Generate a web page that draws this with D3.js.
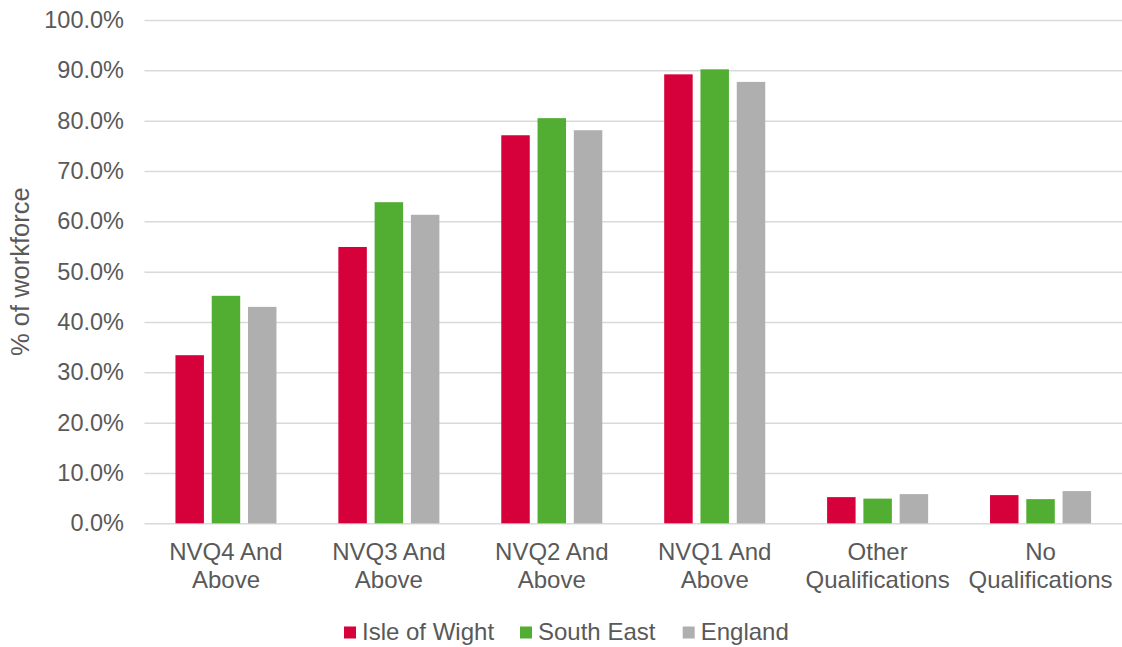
<!DOCTYPE html>
<html>
<head>
<meta charset="utf-8">
<script src="https://cdn.jsdelivr.net/npm/d3@7"></script>
<style>
  html, body { margin: 0; padding: 0; background: #fff; }
  svg text { font-family: "Liberation Sans", Arial, sans-serif; fill: #595959; }
</style>
</head>
<body>
<svg id="chart" width="1122" height="647"></svg>
<script>
// Qualification levels of the workforce
const categories = [
  ["NVQ4 And", "Above"],
  ["NVQ3 And", "Above"],
  ["NVQ2 And", "Above"],
  ["NVQ1 And", "Above"],
  ["Other", "Qualifications"],
  ["No", "Qualifications"]
];
const seriesNames = ["Isle of Wight", "South East", "England"];
const isleOfWight = [33.4, 54.9, 77.1, 89.2, 5.2, 5.6];
const southEast   = [45.2, 63.8, 80.5, 90.2, 4.9, 4.8];
const england     = [43.0, 61.3, 78.1, 87.7, 5.8, 6.4];
const yTicks = [0, 10, 20, 30, 40, 50, 60, 70, 80, 90, 100];
const colors = ["#D6003A", "#52AD33", "#AFAFAF"];

const series = [isleOfWight, southEast, england];
const catKeys = categories.map(c => c.join(" "));

const svg = d3.select("#chart");
const margin = { left: 144.5, right: 0, top: 20, bottom: 123.7 };
const W = 1122, H = 647;

const x0 = d3.scaleBand().domain(catKeys).range([margin.left, W - margin.right]).padding(0);
const x1 = d3.scaleBand().domain(seriesNames).range([0, x0.bandwidth()])
  .paddingInner(0.215).paddingOuter(0.853);
const y = d3.scaleLinear().domain([0, 100]).range([H - margin.bottom, margin.top]);

// Gridlines and value labels
const yAxis = d3.axisLeft(y).tickValues(yTicks)
  .tickFormat(d => d.toFixed(1) + "%")
  .tickSize(-(W - margin.left - margin.right)).tickPadding(20.5);
const gy = svg.append("g").attr("transform", `translate(${margin.left},0)`).call(yAxis);
gy.select(".domain").remove();
gy.selectAll(".tick line").attr("stroke", "#D9D9D9").attr("stroke-width", 1.5);
gy.selectAll(".tick text").attr("font-size", 23.5).attr("fill", "#595959");

// Bars
const groups = svg.append("g").selectAll("g")
  .data(catKeys).join("g")
  .attr("transform", d => `translate(${x0(d)},0)`);
groups.selectAll("rect")
  .data((d, i) => seriesNames.map((s, j) => ({ s, v: series[j][i], c: colors[j] })))
  .join("rect")
  .attr("x", d => x1(d.s))
  .attr("width", x1.bandwidth())
  .attr("y", d => y(d.v))
  .attr("height", d => y(0) - y(d.v))
  .attr("fill", d => d.c);

// Category labels (two lines each)
const xl = svg.append("g").selectAll("text")
  .data(categories).join("text")
  .attr("text-anchor", "middle")
  .attr("font-size", 24)
  .attr("x", (d, i) => x0(catKeys[i]) + x0.bandwidth() / 2)
  .attr("y", y(0) + 37);
xl.selectAll("tspan").data(d => d).join("tspan")
  .attr("x", function() { return d3.select(this.parentNode).attr("x"); })
  .attr("dy", (d, i) => i === 0 ? 0 : 28)
  .text(d => d);

// Axis title
svg.append("text")
  .attr("transform", `translate(29,${(y(0) + y(100)) / 2}) rotate(-90)`)
  .attr("text-anchor", "middle")
  .attr("font-size", 25.5)
  .text("% of workforce");

// Legend
const legendX = [344, 520, 682.7];
const lg = svg.append("g").selectAll("g")
  .data(seriesNames).join("g")
  .attr("transform", (d, i) => `translate(${legendX[i]},626.5)`);
lg.append("rect").attr("width", 12).attr("height", 12).attr("fill", (d, i) => colors[i]);
lg.append("text").attr("x", 18).attr("y", 13).attr("font-size", 24).text(d => d);
</script>
</body>
</html>
